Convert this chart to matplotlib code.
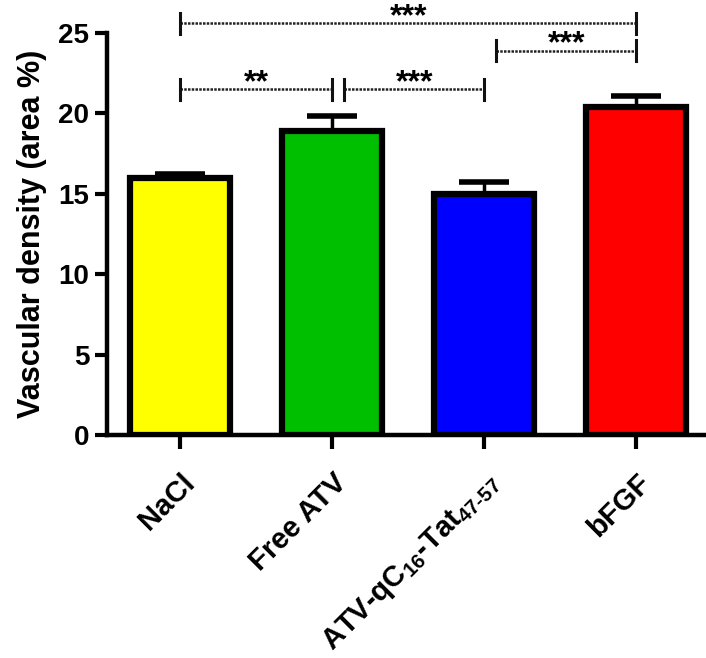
import numpy as np
import matplotlib.pyplot as plt

plt.rcParams['font.family'] = 'Liberation Sans'
plt.rcParams['font.weight'] = 'bold'
plt.rcParams['mathtext.fontset'] = 'custom'
plt.rcParams['mathtext.rm'] = 'Liberation Sans:bold'
plt.rcParams['mathtext.bf'] = 'Liberation Sans:bold'
plt.rcParams['mathtext.default'] = 'bf'

groups = ['NaCl', 'Free ATV', r'ATV-qC$_{16}$-Tat$_{47\text{-}57}$', 'bFGF']
means = [16.0, 18.9, 15.0, 20.4]
sems = [0.25, 0.95, 0.7, 0.7]
colors = ['#ffff00', '#00bf00', '#0000ff', '#ff0000']

# significance brackets: (left group, right group, height, label)
brackets = [(0, 1, 21.5, '**'), (1.08, 2, 21.5, '***'),
            (2.08, 3, 23.9, '***'), (0, 3, 25.6, '***')]

fig = plt.figure(figsize=(7.06, 6.58), dpi=100)
ax = fig.add_axes([0.152, 0.339, 0.848, 0.611])

x = np.arange(len(groups))
ax.bar(x, means, width=0.66, color=colors, edgecolor='black', linewidth=4.5, zorder=2)
ax.errorbar(x, means, yerr=[np.zeros(len(sems)), sems], fmt='none', ecolor='black',
            elinewidth=2.5, capsize=18, capthick=4, zorder=1)

for a, b, h, lab in brackets:
    ax.plot([a, b], [h, h], color='#222222', lw=1.8, ls=(0, (1, 0.5)), clip_on=False)
    for xx in (a, b):
        ax.plot([xx, xx], [h - 0.65, h + 0.65], color='#111111', lw=2.2, clip_on=False)
    ax.text((a + b) / 2, h - 0.55, lab, ha='center', va='bottom', fontsize=23,
            fontweight='bold', clip_on=False)

ax.set_xlim(-0.48, 3.46)
ax.set_ylim(0, 25)
ax.set_yticks([0, 5, 10, 15, 20, 25])
ax.set_xticks(x)
ax.set_xticklabels(groups, rotation=45, ha='right', rotation_mode='anchor', fontsize=21,
                   fontweight='bold')
ax.tick_params(axis='y', labelsize=20, width=3, length=9, pad=4)
ax.tick_params(axis='x', width=3, length=10, pad=14)
for lab in ax.get_yticklabels():
    lab.set_fontweight('bold')
ax.set_ylabel('Vascular density (area %)', fontsize=22, fontweight='bold', labelpad=8)

ax.spines['top'].set_visible(False)
ax.spines['right'].set_visible(False)
ax.spines['left'].set_linewidth(3.2)
ax.spines['bottom'].set_linewidth(3.2)

fig.savefig('out.png', dpi=100)
